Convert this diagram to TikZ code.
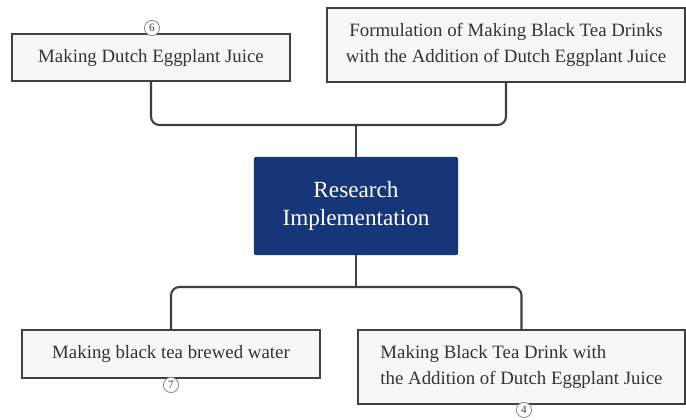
\documentclass[tikz,border=0pt]{standalone}
\usepackage{fontspec}
\setmainfont{Liberation Serif}
\definecolor{navy}{HTML}{17367A}
\definecolor{boxfill}{HTML}{F7F7F7}
\definecolor{linegray}{HTML}{404040}
\tikzset{
  task/.style={draw=linegray,line width=1.5pt,fill=boxfill,font=\fontsize{13.4}{19}\selectfont,
    text=black!80,align=left,inner sep=0pt},
  core/.style={fill=navy,text=white,font=\fontsize{16.5}{20}\selectfont,align=center,
    minimum width=5.1cm,minimum height=2.45cm,rounded corners=1pt},
  conn/.style={linegray,line width=1.5pt,rounded corners=6pt},
  badge/.style={circle,draw=black!45,fill=white,line width=0.6pt,inner sep=0pt,
    minimum size=0.38cm,font=\fontsize{8}{8}\selectfont,text=black!75}
}
\begin{document}
\begin{tikzpicture}[x=0.025cm,y=-0.025cm]
  \useasboundingbox (0,0) rectangle (686,420);

  \node[core] (res) at (356,206) {Research\\Implementation};

  \node[task,minimum width=6.95cm,minimum height=1.175cm] (juice) at (151,57.5)
    {Making Dutch Eggplant Juice};
  \node[task,minimum width=8.95cm,minimum height=1.85cm,align=center] (form) at (506,45)
    {Formulation of Making Black Tea Drinks\\with the Addition of Dutch Eggplant Juice};
  \node[task,minimum width=7.45cm,minimum height=1.2cm] (brew) at (171,354)
    {Making black tea brewed water};
  \node[task,minimum width=8.175cm,minimum height=1.85cm] (drink) at (521.5,367)
    {Making Black Tea Drink with\\the Addition of Dutch Eggplant Juice};

  % connectors
  \coordinate (top) at (356,125);
  \coordinate (bot) at (356,287);
  \draw[conn] (juice.south) |- (top) -| (form.south);
  \draw[conn] (top) -- (res.north);
  \draw[conn] (res.south) -- (bot);
  \draw[conn] (brew.north) |- (bot) -| (drink.north);

  % numbers
  \node[badge] (n6) at (152,28) {6};
  \node[badge] (n7) at (171,385) {7};
  \node[badge] (n4) at (524,410) {4};
\end{tikzpicture}
\end{document}
